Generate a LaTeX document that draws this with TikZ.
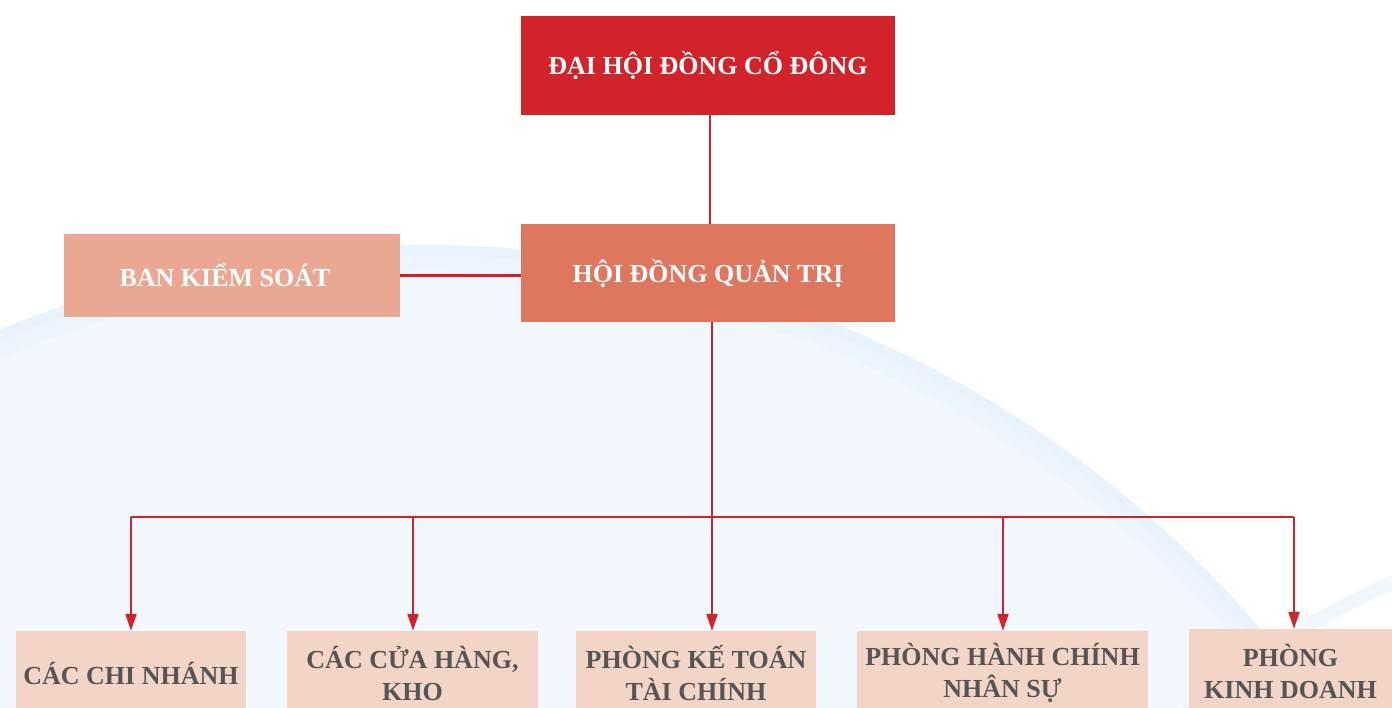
\documentclass[tikz,border=0pt]{standalone}
\usepackage{fontspec}
\setmainfont{Liberation Serif}
\usetikzlibrary{arrows.meta}
\definecolor{redA}{HTML}{D2222A}
\definecolor{orgB}{HTML}{DF775E}
\definecolor{salC}{HTML}{EAA893}
\definecolor{pchD}{HTML}{F3D5C8}
\definecolor{txtG}{HTML}{555555}
\definecolor{bgBlue}{HTML}{F2F8FD}
\definecolor{bgEdge}{HTML}{E6F2FC}
\tikzset{
  box/.style={rectangle, inner sep=0pt, font=\fontsize{26}{32}\selectfont\bfseries, align=center},
  topbox/.style={box, fill=redA, text=white},
  midbox/.style={box, fill=orgB, text=white},
  sidebox/.style={box, fill=salC, text=white},
  botbox/.style={box, fill=pchD, text=txtG},
  link/.style={draw=redA, line width=2.2pt},
  arr/.style={link, -{Triangle[length=17pt,width=11pt]}}
}
\begin{document}
\begin{tikzpicture}[x=1pt,y=-1pt]
\useasboundingbox (0,0) rectangle (1392,708);
\clip (0,0) rectangle (1392,708);
% background
\fill[white] (0,0) rectangle (1392,708);
\fill[bgBlue] (425,1346) circle (1101);
\draw[bgEdge, line width=10pt, opacity=0.8] (425,1346) circle (1096);
\draw[bgEdge, line width=20pt, opacity=0.35] (425,1346) circle (1085);
\draw[bgEdge, line width=14pt, opacity=0.6] (1700,1300) circle (780);
% nodes
\node[topbox, minimum width=374pt, minimum height=99pt] (dhcd) at (708,65.5) {ĐẠI HỘI ĐỒNG CỔ ĐÔNG};
\node[midbox, minimum width=374pt, minimum height=98pt] (hdqt) at (708,273) {HỘI ĐỒNG QUẢN TRỊ};
\node[sidebox, minimum width=336pt, minimum height=83pt] (bks) at (232,275.5) {\hspace*{-14pt}BAN KIỂM SOÁT};
\node[botbox, minimum width=230pt, minimum height=84pt] (b1) at (131,673) {CÁC CHI NHÁNH};
\node[botbox, minimum width=251pt, minimum height=84pt] (b2) at (412.5,673) {CÁC CỬA HÀNG,\\KHO};
\node[botbox, minimum width=240pt, minimum height=84pt] (b3) at (696,673) {PHÒNG KẾ TOÁN\\TÀI CHÍNH};
\node[botbox, minimum width=291pt, minimum height=84pt] (b4) at (1002.5,673) {PHÒNG HÀNH CHÍNH\\NHÂN SỰ};
\node[botbox, minimum width=203pt, minimum height=84pt] (b5) at (1290.5,671) {PHÒNG\\KINH DOANH};
% connectors
\coordinate (t1) at (710,115);
\coordinate (t2) at (712,322);
\coordinate (j1) at (131,517);
\coordinate (j2) at (413,517);
\coordinate (j3) at (712,517);
\coordinate (j4) at (1003,517);
\coordinate (j5) at (1294,517);
\draw[link] (t1) -- (t1 |- hdqt.north);
\draw[link] (bks.east) -- (bks.east -| hdqt.west);
\draw[link] (t2) -- (j3);
\draw[link] (j1) -- (j5);
\draw[arr] (j1) -- (j1 |- b1.north);
\draw[arr] (j2) -- (j2 |- b2.north);
\draw[arr] (j3) -- (j3 |- b3.north);
\draw[arr] (j4) -- (j4 |- b4.north);
\draw[arr] (j5) -- (j5 |- b5.north);
\end{tikzpicture}
\end{document}
